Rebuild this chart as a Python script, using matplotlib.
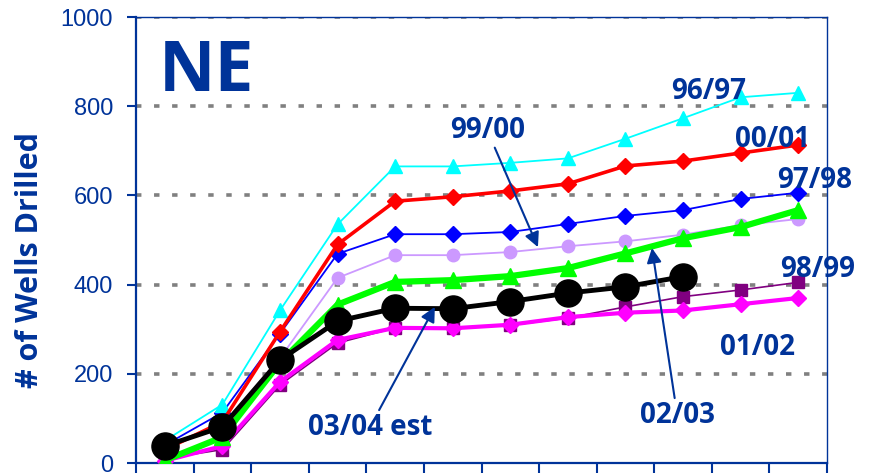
import numpy as np
import matplotlib
matplotlib.use("Agg")
import matplotlib.pyplot as plt

# cumulative wells drilled by month, one list per season
s9697 = [50, 131, 342, 535, 665, 665, 673, 683, 727, 773, 820, 830]
s0001 = [30, 92, 294, 490, 587, 597, 610, 626, 666, 677, 695, 713]
s9798 = [40, 113, 290, 469, 513, 513, 518, 536, 554, 567, 592, 606]
s9900 = [32, 85, 235, 415, 466, 466, 473, 486, 497, 512, 533, 547]
s0203 = [6, 58, 225, 355, 406, 410, 419, 437, 470, 504, 529, 567]
s9899 = [10, 30, 175, 269, 303, 303, 309, 325, 350, 373, 388, 405]
s0102 = [5, 38, 182, 276, 303, 302, 310, 327, 337, 342, 356, 370]
s0304 = [38, 81, 231, 318, 347, 346, 362, 381, 395, 418]

n_months = 12
yticks = [0, 200, 400, 600, 800, 1000]

navy = "#003399"


def xs(vals):
    return np.arange(len(vals)) + 0.5


fig = plt.figure(figsize=(8.76, 4.73), dpi=100)
ax = fig.add_axes([136 / 876, 1 - 463 / 473, (827 - 136) / 876, (463 - 17) / 473])

# gridlines
for v in yticks[1:]:
    ax.axhline(v, color="#808080", lw=2.6, ls=(0, (1.5, 3.5)),
               dash_capstyle="butt", zorder=1)

# series, back to front
ax.plot(xs(s9899), s9899, color="#800080", lw=1.2, marker="s", ms=9, zorder=3)
ax.plot(xs(s0102), s0102, color="#FF00FF", lw=3.0, marker="D", ms=8, zorder=4)
ax.plot(xs(s9900), s9900, color="#CC99FF", lw=1.3, marker="o", ms=9, zorder=3)
ax.plot(xs(s9798), s9798, color="#0000FF", lw=1.3, marker="D", ms=8, zorder=3)
ax.plot(xs(s9697), s9697, color="#00FFFF", lw=1.3, marker="^", ms=10, zorder=3)
ax.plot(xs(s0001), s0001, color="#FF0000", lw=2.6, marker="D", ms=8, zorder=4)
ax.plot(xs(s0203), s0203, color="#00FF00", lw=4.5, marker="^", ms=11, zorder=5)
ax.plot(xs(s0304), s0304, color="black", lw=3.5, marker="o", ms=19.5, zorder=6)

ax.set_xlim(0, n_months)
ax.set_ylim(0, 1000)
ax.set_yticks(yticks)
ax.set_xticks(np.arange(n_months + 1))
ax.set_xticklabels([])
ax.tick_params(axis="y", colors=navy, labelcolor=navy, labelsize=17,
               length=6.5, width=1.5, pad=10)
ax.tick_params(axis="x", colors=navy, length=8, width=1.5)
for lab in ax.get_yticklabels():
    lab.set_fontfamily("Liberation Sans")

ax.spines["left"].set_color(navy)
ax.spines["left"].set_linewidth(1.6)
ax.spines["bottom"].set_color(navy)
ax.spines["bottom"].set_linewidth(1.6)
ax.spines["right"].set_color(navy)
ax.spines["right"].set_linewidth(1.0)
ax.spines["top"].set_color(navy)
ax.spines["top"].set_linewidth(1.0)

tkw = dict(color=navy, fontweight="bold", fontfamily="Open Sans", fontsize=20,
           ha="center", va="baseline", zorder=8)
ax.text(0.40, 834, "NE", color=navy, fontweight="bold", fontfamily="Open Sans",
        fontsize=50, ha="left", va="baseline")
ax.text(9.95, 816, "96/97", **tkw)
ax.text(11.06, 709, "00/01", **tkw)
ax.text(11.78, 617, "97/98", **tkw)
ax.text(11.84, 417, "98/99", **tkw)
ax.text(10.80, 242, "01/02", **tkw)

akw = dict(arrowstyle="-|>", color=navy, lw=1.5, mutation_scale=22,
           shrinkA=0, shrinkB=0)
ax.annotate("99/00", xy=(6.98, 484), xytext=(6.10, 729), arrowprops=akw,
            annotation_clip=False, **tkw)
ax.annotate("02/03", xy=(8.96, 482), xytext=(9.40, 90), arrowprops=akw,
            annotation_clip=False, **tkw)
ax.annotate("03/04 est", xy=(5.19, 350), xytext=(4.06, 63), arrowprops=akw,
            annotation_clip=False, **tkw)

fig.text(30 / 876, 1 - 260 / 473, "# of Wells Drilled", rotation=90,
         color=navy, fontweight="bold", fontfamily="Open Sans", fontsize=22,
         ha="center", va="center")

fig.savefig("out.png", dpi=100)
